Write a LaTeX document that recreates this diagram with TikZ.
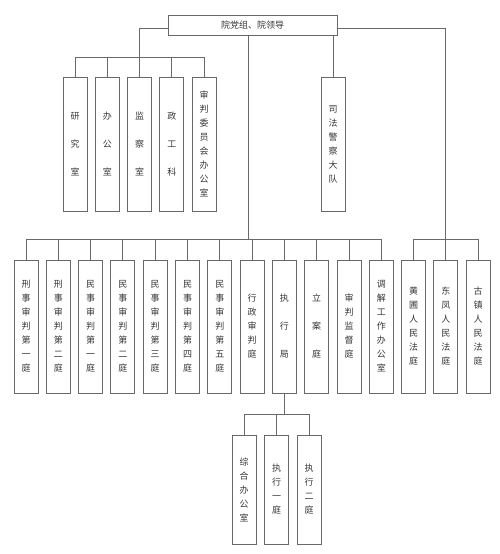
\documentclass[tikz,border=0pt]{standalone}
\usepackage{fontspec}
\newfontfamily\cjk{Noto Sans CJK SC}
\usetikzlibrary{positioning}
\definecolor{myline}{RGB}{105,105,105}
\definecolor{mytext}{RGB}{55,55,55}

\begin{document}
\begin{tikzpicture}[x=1pt,y=-1pt,line width=0.9pt,
  office/.style={draw=myline,fill=white,text=mytext,align=center,inner sep=0pt,
    minimum width=24pt,font={\cjk\fontsize{9}{14}\selectfont}},
  upper/.style={office,minimum height=134pt},
  lower/.style={office,minimum height=133pt},
  sub/.style={office,minimum height=109pt},
  wire/.style={draw=myline}]

  \useasboundingbox (0,0) rectangle (500,554);

  \node[office,minimum width=169pt,minimum height=20pt] (top) at (252.5,25) {院党组、院领导};

  % first row under the leaders
  \foreach \t [count=\i] in {{研\\[14pt]究\\[14pt]室},{办\\[14pt]公\\[14pt]室},
    {监\\[14pt]察\\[14pt]室},{政\\[14pt]工\\[14pt]科},{审\\判\\委\\员\\会\\办\\公\\室}}
    \node[upper] (t\i) at ({75+(\i-1)*32.3},144) {\t};

  \node[upper] (guard) at (333,144) {司\\法\\警\\察\\大\\队};

  % second row
  \foreach \t [count=\i] in {{刑\\事\\审\\判\\第\\一\\庭},{刑\\事\\审\\判\\第\\二\\庭},
    {民\\事\\审\\判\\第\\一\\庭},{民\\事\\审\\判\\第\\二\\庭},{民\\事\\审\\判\\第\\三\\庭},
    {民\\事\\审\\判\\第\\四\\庭},{民\\事\\审\\判\\第\\五\\庭},{行\\政\\审\\判\\庭},
    {执\\[14pt]行\\[14pt]局},{立\\[14pt]案\\[14pt]庭},{审\\判\\监\\督\\庭},
    {调\\解\\工\\作\\办\\公\\室},{黄\\圃\\人\\民\\法\\庭},{东\\凤\\人\\民\\法\\庭},
    {古\\镇\\人\\民\\法\\庭}}
    \node[lower] (b\i) at ({26+(\i-1)*32.3},326.5) {\t};

  % under the enforcement bureau
  \foreach \t [count=\i] in {{综\\合\\办\\公\\室},{执\\行\\一\\庭},{执\\行\\二\\庭}}
    \node[sub] (s\i) at ({244+(\i-1)*32.5},489.5) {\t};

  \coordinate (busA) at (0,57);
  \coordinate (busB) at (0,239);
  \coordinate (busC) at (0,414);
  \coordinate (hub) at (248,239);

  % leaders to first row
  \draw[wire] ([yshift=-3pt]top.west) -| (t3.north);
  \draw[wire] (t1.north |- busA) -- (t5.north |- busA);
  \foreach \i in {1,2,4,5}
    \draw[wire] (t\i.north) -- (t\i.north |- busA);
  \draw[wire] (top.south -| guard) -- (guard.north);

  % leaders to second row
  \draw[wire] (top.south -| hub) -- (hub);
  \draw[wire] (b1.north |- busB) -- (b12.north |- busB);
  \draw[wire] ([yshift=-3pt]top.east) -| (b14.north);
  \draw[wire] (b13.north |- busB) -- (b15.north |- busB);
  \foreach \i in {1,...,13,15}
    \draw[wire] (b\i.north) -- (b\i.north |- busB);

  % enforcement bureau to its offices
  \draw[wire] (b9.south) -- (b9.south |- busC);
  \draw[wire] (s1.north |- busC) -- (s3.north |- busC);
  \foreach \i in {1,2,3}
    \draw[wire] (s\i.north) -- (s\i.north |- busC);

\end{tikzpicture}
\end{document}
